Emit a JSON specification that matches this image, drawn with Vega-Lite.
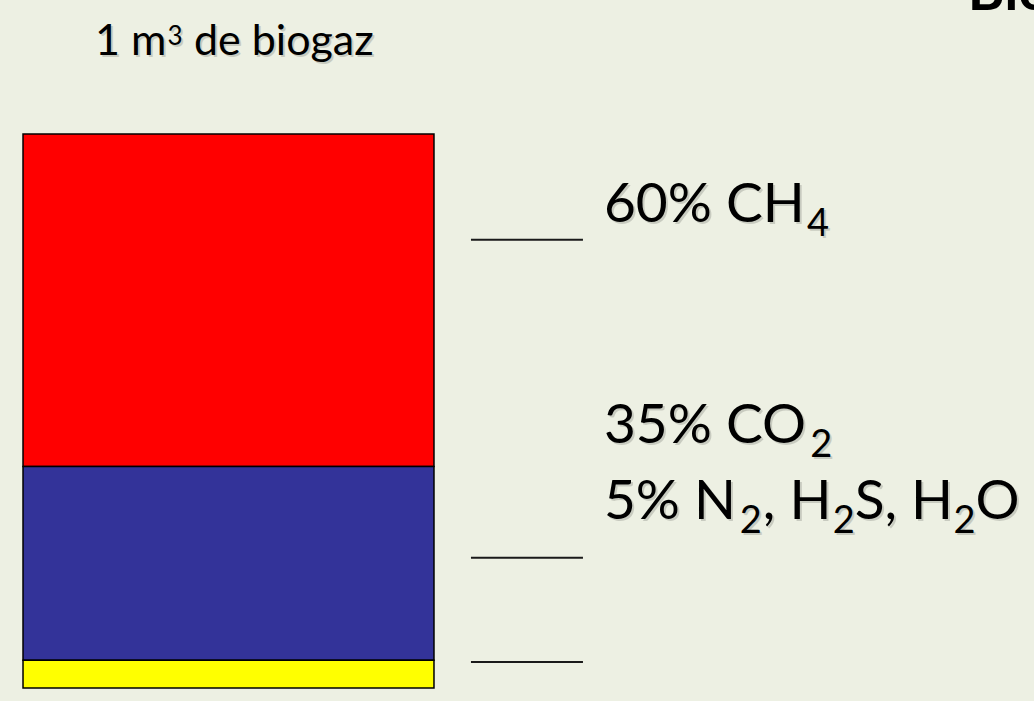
{
  "$schema": "https://vega.github.io/schema/vega-lite/v6.json",
  "width": 1034,
  "height": 701,
  "padding": 0,
  "autosize": {"type": "none"},
  "background": "#edf0e3",
  "config": {"view": {"stroke": null, "fill": null}, "text": {"font": "Lato", "color": "#000000", "align": "left", "baseline": "alphabetic"}},
  "datasets": {
    "gases": [
      {"gas": "CH4", "pct": 60, "order": 3},
      {"gas": "CO2", "pct": 35, "order": 2},
      {"gas": "N2, H2S, H2O", "pct": 5, "order": 1}
    ],
    "blanks": [{"level": 80.9}, {"level": 23.5}, {"level": 4.7}]
  },
  "layer": [
    {
      "data": {"name": "gases"},
      "transform": [{"stack": "pct", "groupby": [], "sort": [{"field": "order"}], "as": ["y0", "y1"]}],
      "mark": {"type": "rect", "stroke": "#000000", "strokeWidth": 1.5},
      "encoding": {
        "x": {"datum": 0, "type": "quantitative", "scale": {"domain": [-0.056, 2.46], "nice": false, "zero": false}, "axis": null},
        "x2": {"datum": 1},
        "y": {"field": "y0", "type": "quantitative", "scale": {"domain": [-2.347, 124.19], "nice": false, "zero": false}, "axis": null},
        "y2": {"field": "y1"},
        "color": {"field": "gas", "type": "nominal", "scale": {"domain": ["CH4", "CO2", "N2, H2S, H2O"], "range": ["#ff0000", "#333399", "#ffff00"]}, "legend": null}
      }
    },
    {
      "data": {"name": "blanks"},
      "mark": {"type": "rule", "strokeWidth": 2, "color": "#1a1a1a"},
      "encoding": {
        "x": {"datum": 1.09, "type": "quantitative"},
        "x2": {"datum": 1.3625},
        "y": {"field": "level", "type": "quantitative"}
      }
    },
    {
      "data": {"values": [{"t": "60% CH"}]},
      "encoding": {"x": {"datum": 1.4136, "type": "quantitative"}, "y": {"datum": 84.12, "type": "quantitative"}, "text": {"field": "t"}},
      "layer": [
        {"mark": {"type": "text", "fontSize": 55, "dx": 2, "dy": 2, "opacity": 0.15}},
        {"mark": {"type": "text", "fontSize": 55}}
      ]
    },
    {
      "data": {"values": [{"t": "4"}]},
      "encoding": {"x": {"datum": 1.9075, "type": "quantitative"}, "y": {"datum": 81.59, "type": "quantitative"}, "text": {"field": "t"}},
      "layer": [
        {"mark": {"type": "text", "fontSize": 38, "dx": 2, "dy": 2, "opacity": 0.15}},
        {"mark": {"type": "text", "fontSize": 38}}
      ]
    },
    {
      "data": {"values": [{"t": "35% CO"}]},
      "encoding": {"x": {"datum": 1.4136, "type": "quantitative"}, "y": {"datum": 44.22, "type": "quantitative"}, "text": {"field": "t"}},
      "layer": [
        {"mark": {"type": "text", "fontSize": 55, "dx": 2, "dy": 2, "opacity": 0.15}},
        {"mark": {"type": "text", "fontSize": 55}}
      ]
    },
    {
      "data": {"values": [{"t": "2"}]},
      "encoding": {"x": {"datum": 1.9158, "type": "quantitative"}, "y": {"datum": 41.70, "type": "quantitative"}, "text": {"field": "t"}},
      "layer": [
        {"mark": {"type": "text", "fontSize": 38, "dx": 2, "dy": 2, "opacity": 0.15}},
        {"mark": {"type": "text", "fontSize": 38}}
      ]
    },
    {
      "data": {"values": [{"t": "5% N"}]},
      "encoding": {"x": {"datum": 1.4136, "type": "quantitative"}, "y": {"datum": 30.51, "type": "quantitative"}, "text": {"field": "t"}},
      "layer": [
        {"mark": {"type": "text", "fontSize": 55, "dx": 2, "dy": 2, "opacity": 0.15}},
        {"mark": {"type": "text", "fontSize": 55}}
      ]
    },
    {
      "data": {"values": [{"t": "2"}]},
      "encoding": {"x": {"datum": 1.7443, "type": "quantitative"}, "y": {"datum": 27.98, "type": "quantitative"}, "text": {"field": "t"}},
      "layer": [
        {"mark": {"type": "text", "fontSize": 38, "dx": 2, "dy": 2, "opacity": 0.15}},
        {"mark": {"type": "text", "fontSize": 38}}
      ]
    },
    {
      "data": {"values": [{"t": ", H"}]},
      "encoding": {"x": {"datum": 1.8002, "type": "quantitative"}, "y": {"datum": 30.51, "type": "quantitative"}, "text": {"field": "t"}},
      "layer": [
        {"mark": {"type": "text", "fontSize": 55, "dx": 2, "dy": 2, "opacity": 0.15}},
        {"mark": {"type": "text", "fontSize": 55}}
      ]
    },
    {
      "data": {"values": [{"t": "2"}]},
      "encoding": {"x": {"datum": 1.9701, "type": "quantitative"}, "y": {"datum": 27.98, "type": "quantitative"}, "text": {"field": "t"}},
      "layer": [
        {"mark": {"type": "text", "fontSize": 38, "dx": 2, "dy": 2, "opacity": 0.15}},
        {"mark": {"type": "text", "fontSize": 38}}
      ]
    },
    {
      "data": {"values": [{"t": "S, H"}]},
      "encoding": {"x": {"datum": 2.0236, "type": "quantitative"}, "y": {"datum": 30.51, "type": "quantitative"}, "text": {"field": "t"}},
      "layer": [
        {"mark": {"type": "text", "fontSize": 55, "dx": 2, "dy": 2, "opacity": 0.15}},
        {"mark": {"type": "text", "fontSize": 55}}
      ]
    },
    {
      "data": {"values": [{"t": "2"}]},
      "encoding": {"x": {"datum": 2.2643, "type": "quantitative"}, "y": {"datum": 27.98, "type": "quantitative"}, "text": {"field": "t"}},
      "layer": [
        {"mark": {"type": "text", "fontSize": 38, "dx": 2, "dy": 2, "opacity": 0.15}},
        {"mark": {"type": "text", "fontSize": 38}}
      ]
    },
    {
      "data": {"values": [{"t": "O"}]},
      "encoding": {"x": {"datum": 2.3178, "type": "quantitative"}, "y": {"datum": 30.51, "type": "quantitative"}, "text": {"field": "t"}},
      "layer": [
        {"mark": {"type": "text", "fontSize": 55, "dx": 2, "dy": 2, "opacity": 0.15}},
        {"mark": {"type": "text", "fontSize": 55}}
      ]
    },
    {
      "data": {"values": [{"t": "1 m"}]},
      "encoding": {"x": {"datum": 0.1752, "type": "quantitative"}, "y": {"datum": 114.26, "type": "quantitative"}, "text": {"field": "t"}},
      "layer": [
        {"mark": {"type": "text", "fontSize": 43, "dx": 2, "dy": 2, "opacity": 0.15}},
        {"mark": {"type": "text", "fontSize": 43}}
      ]
    },
    {
      "data": {"values": [{"t": "3"}]},
      "encoding": {"x": {"datum": 0.3518, "type": "quantitative"}, "y": {"datum": 116.06, "type": "quantitative"}, "text": {"field": "t"}},
      "layer": [
        {"mark": {"type": "text", "fontSize": 26, "dx": 2, "dy": 2, "opacity": 0.15}},
        {"mark": {"type": "text", "fontSize": 26}}
      ]
    },
    {
      "data": {"values": [{"t": "de biogaz"}]},
      "encoding": {"x": {"datum": 0.4160, "type": "quantitative"}, "y": {"datum": 114.26, "type": "quantitative"}, "text": {"field": "t"}},
      "layer": [
        {"mark": {"type": "text", "fontSize": 43, "dx": 2, "dy": 2, "opacity": 0.15}},
        {"mark": {"type": "text", "fontSize": 43}}
      ]
    },
    {
      "data": {"values": [{"t": "Bio"}]},
      "mark": {"type": "text", "fontSize": 56, "fontWeight": "bold"},
      "encoding": {"x": {"datum": 2.299, "type": "quantitative"}, "y": {"datum": 122.38, "type": "quantitative"}, "text": {"field": "t"}}
    }
  ]
}
